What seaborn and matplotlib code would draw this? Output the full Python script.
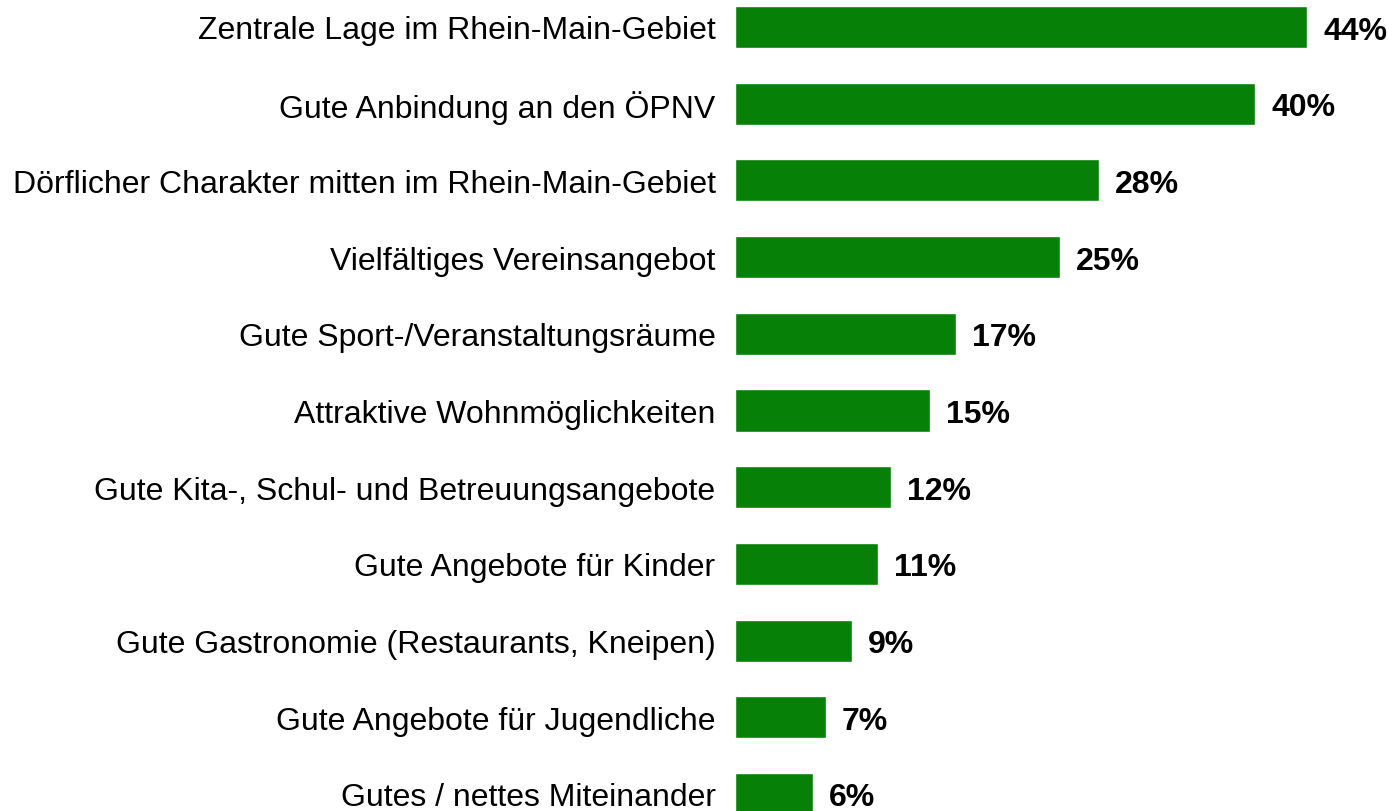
import pandas as pd
import seaborn as sns
import matplotlib.pyplot as plt

#%% Daten
kategorien = [
    "Zentrale Lage im Rhein-Main-Gebiet",
    "Gute Anbindung an den ÖPNV",
    "Dörflicher Charakter mitten im Rhein-Main-Gebiet",
    "Vielfältiges Vereinsangebot",
    "Gute Sport-/Veranstaltungsräume",
    "Attraktive Wohnmöglichkeiten",
    "Gute Kita-, Schul- und Betreuungsangebote",
    "Gute Angebote für Kinder",
    "Gute Gastronomie (Restaurants, Kneipen)",
    "Gute Angebote für Jugendliche",
    "Gutes / nettes Miteinander",
]
werte = [44, 40, 28, 25, 17, 15, 12, 11, 9, 7, 6]

df = pd.DataFrame({"Kategorie": kategorien, "Anteil": werte})

#%% Plot
sns.set_style("white")
plt.rcParams['font.family'] = ['Liberation Sans', 'DejaVu Sans']

fig = plt.figure(figsize=(13.88, 8.12), dpi=100)
ax = fig.add_axes([735 / 1388, 0, 1 - 735 / 1388, 1])

sns.barplot(data=df, x="Anteil", y="Kategorie", orient="h", color="#068006",
            saturation=1, width=0.548, ax=ax)

ax.set_xlim(0, 653 / 13.0)
ax.set_ylim(10 + 17 / 76.7, -28 / 76.7)

for i, v in enumerate(werte):
    ax.text(v + 16 / 13.0, i, f"{v}%", va="center_baseline", ha="left",
            fontsize=23, fontweight="bold", color="black", clip_on=False)

ax.set_xlabel("")
ax.set_ylabel("")
ax.set_xticks([])
ax.tick_params(axis="y", length=0, pad=14, labelsize=23, labelcolor="black")
sns.despine(ax=ax, left=True, bottom=True)

fig.savefig("out.png", dpi=100)
